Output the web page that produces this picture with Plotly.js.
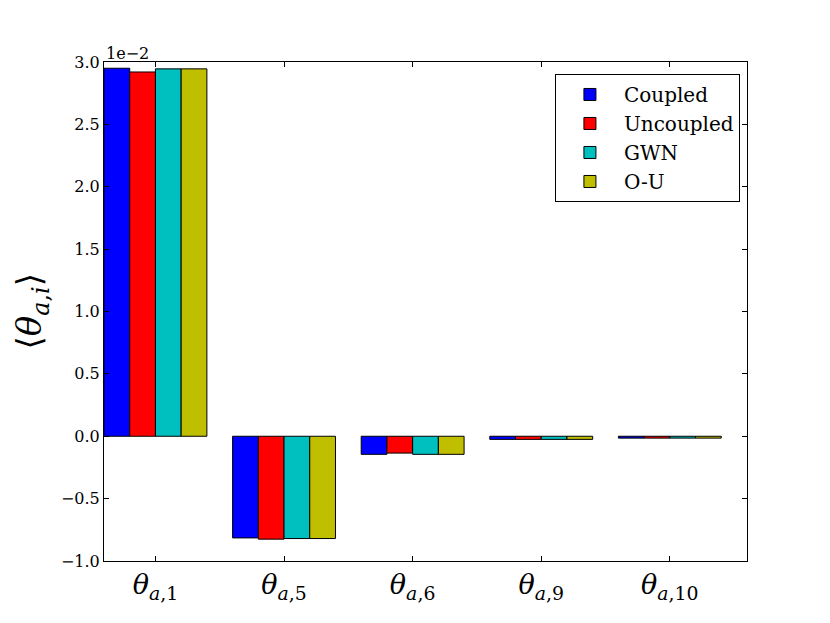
<!DOCTYPE html>
<html><head><meta charset="utf-8">
<script src="https://cdn.plot.ly/plotly-3.0.1.min.js"></script>
<style>body{margin:0;background:#fff}#plot{width:830px;height:623px}</style>
</head><body><div id="plot"></div>
<script>
// values in units of 1e-2
const categories = ['θa,1','θa,5','θa,6','θa,9','θa,10'];
const tickLabels = ['<i>θ</i><sub><i>a</i>,1</sub>','<i>θ</i><sub><i>a</i>,5</sub>','<i>θ</i><sub><i>a</i>,6</sub>','<i>θ</i><sub><i>a</i>,9</sub>','<i>θ</i><sub><i>a</i>,10</sub>'];
const seriesNames = ['Coupled','Uncoupled','GWN','O-U'];
const coupled   = [2.95, -0.815, -0.145, -0.025, -0.015];
const uncoupled = [2.92, -0.825, -0.135, -0.025, -0.015];
const gwn       = [2.945, -0.82, -0.145, -0.025, -0.015];
const ou        = [2.945, -0.82, -0.145, -0.025, -0.015];
const colors = ['#0000ff','#ff0000','#00bfbf','#bfbf00'];
const series = [coupled, uncoupled, gwn, ou];
const pos = categories.map((c,i)=>i);
const traces = series.map((vals,k)=>({
  type:'bar', x:pos, y:vals, name:seriesNames[k],
  width:0.2, offset:0.2*k,
  marker:{color:colors[k], line:{color:'#000', width:1}}
}));
const serif = 'DejaVu Serif';
const layout = {
  width:830, height:623,
  margin:{l:104, r:83, t:62, b:62},
  paper_bgcolor:'#fff', plot_bgcolor:'#fff',
  barmode:'overlay',
  showlegend:true,
  legend:{x:0.989, y:0.976, xanchor:'right', yanchor:'top',
    bordercolor:'#000', borderwidth:1, bgcolor:'#fff',
    font:{family:serif, size:20, color:'#000'}, itemwidth:58},
  xaxis:{range:[0,5], tickvals:pos.map(p=>p+0.4), ticktext:tickLabels,
    ticks:'inside', ticklen:5, tickcolor:'#000', mirror:'allticks',
    showline:true, linecolor:'#000', linewidth:1, showgrid:false, zeroline:false,
    tickfont:{family:serif, size:27, color:'#000'}},
  yaxis:{range:[-1,3], tickvals:[-1,-0.5,0,0.5,1,1.5,2,2.5,3], tickformat:'.1f',
    ticks:'inside', ticklen:5, tickcolor:'#000', mirror:'allticks',
    showline:true, linecolor:'#000', linewidth:1, showgrid:false, zeroline:false,
    tickfont:{family:serif, size:16, color:'#000'}},
  annotations:[
    {text:'1e−2', xref:'paper', yref:'paper', x:0, y:1, xanchor:'left', yanchor:'bottom',
     showarrow:false, font:{family:serif, size:16, color:'#000'}, yshift:-3},
    {text:'⟨<i>θ</i><sub><i>a</i>,<i>i</i></sub>⟩', xref:'paper', yref:'paper', x:-0.112, y:0.5,
     xanchor:'center', yanchor:'middle', textangle:-90, showarrow:false,
     font:{family:serif, size:34, color:'#000'}}
  ]
};
Plotly.newPlot('plot', traces, layout, {staticPlot:true});
</script></body></html>
